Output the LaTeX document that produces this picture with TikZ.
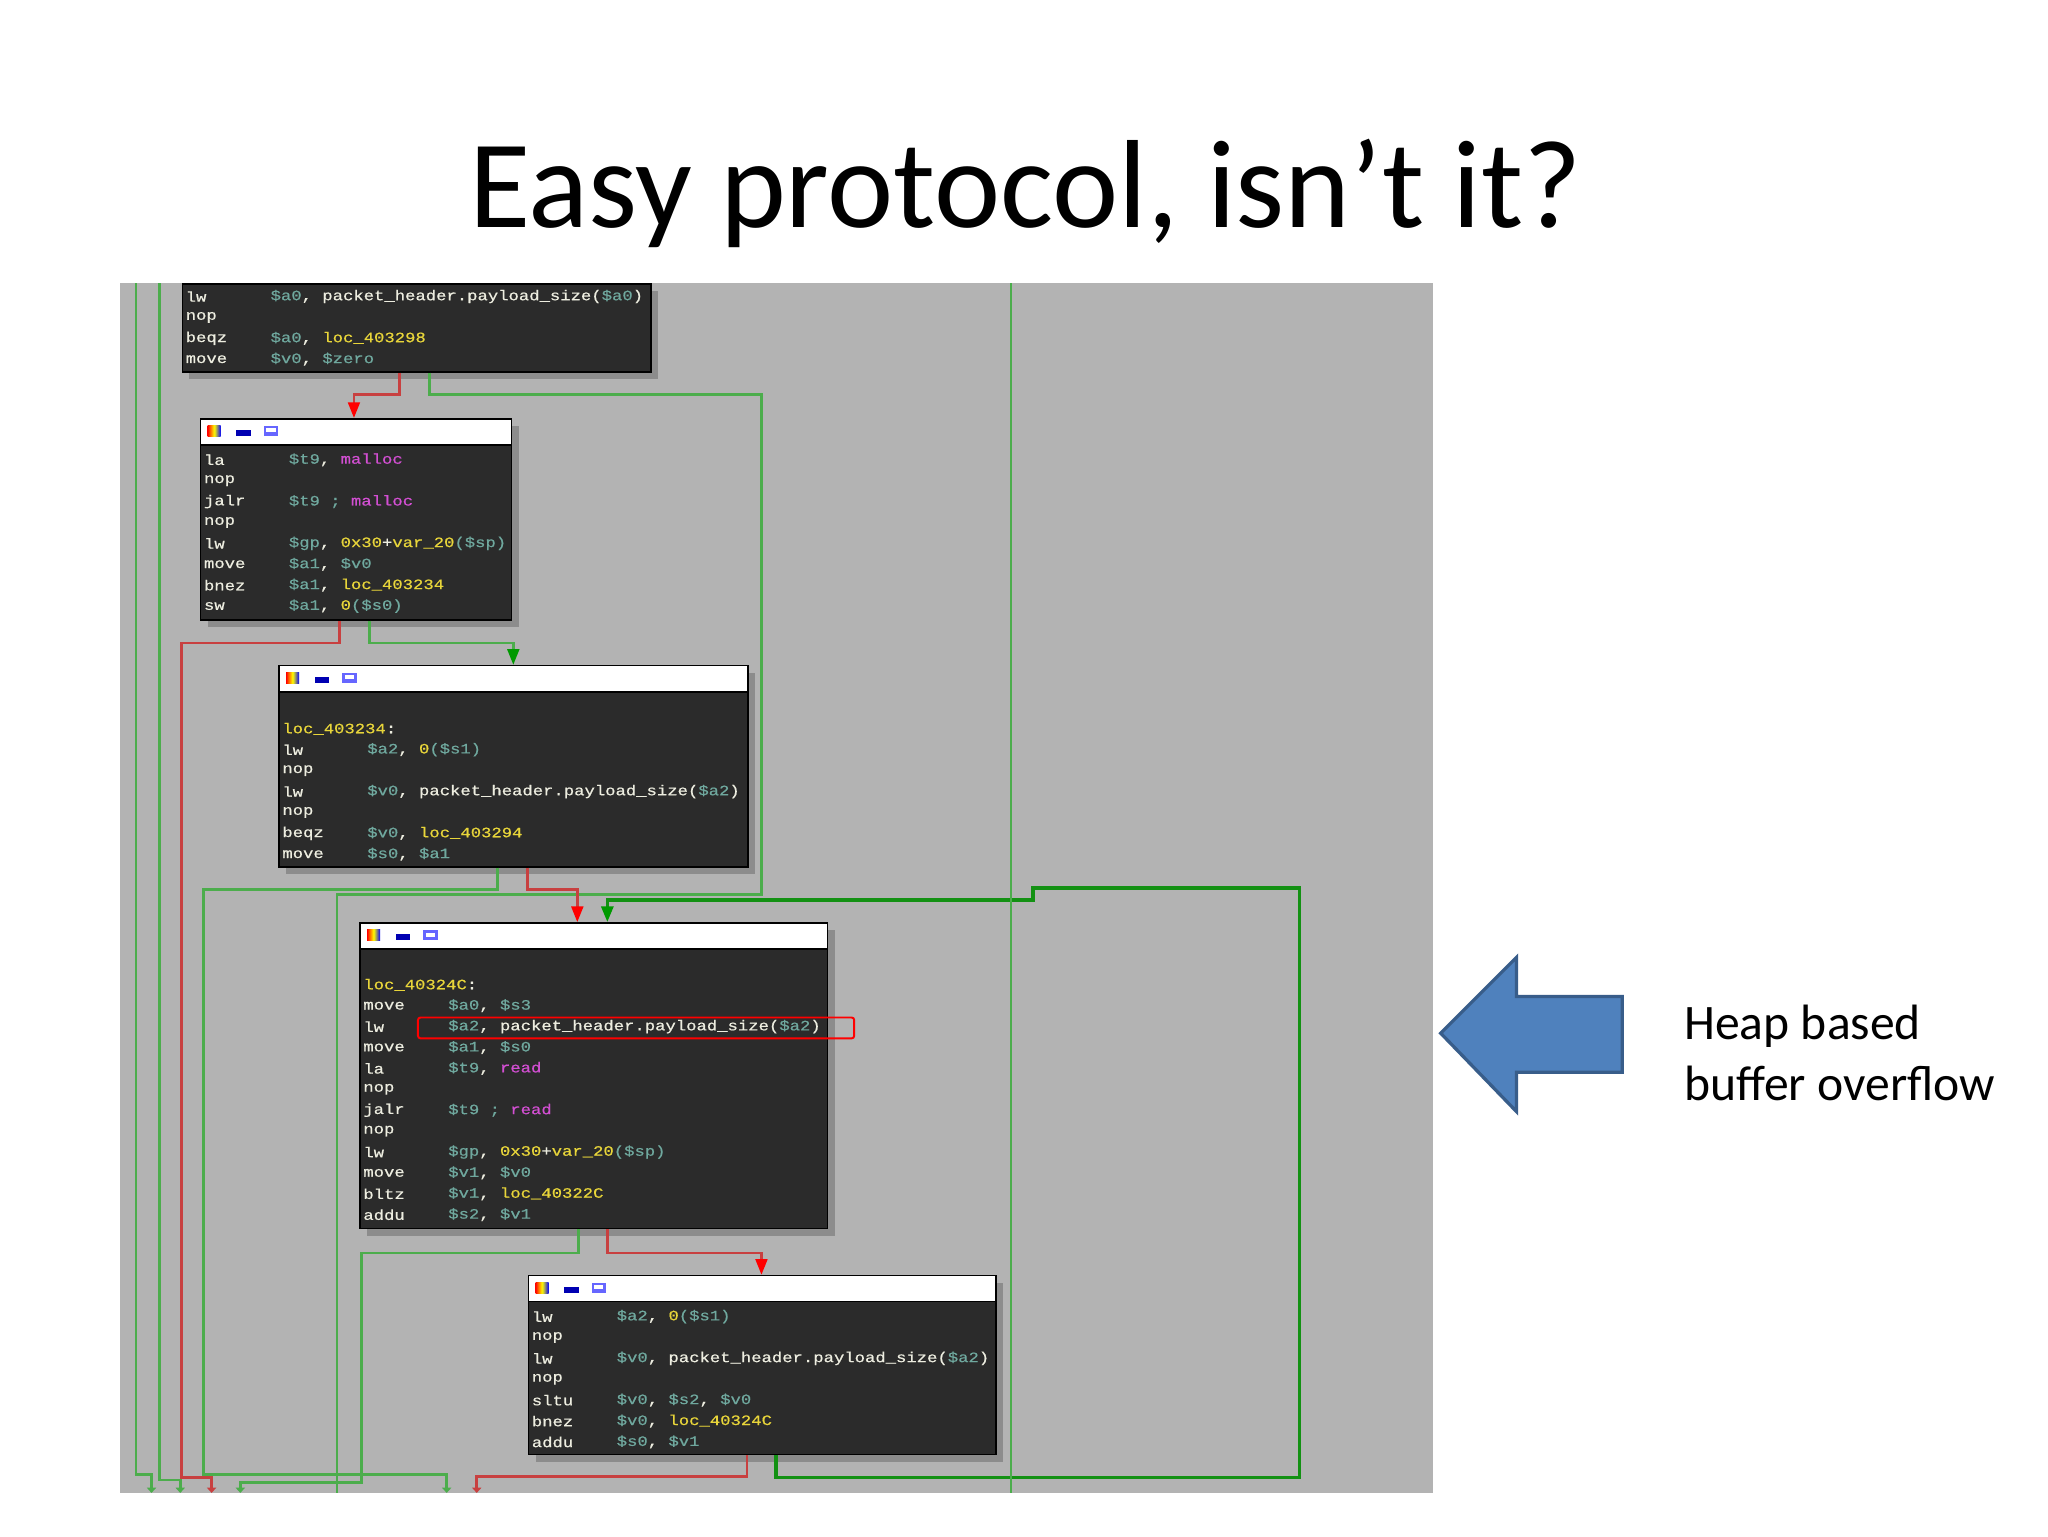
\documentclass[tikz,border=0pt]{standalone}
\usepackage{fontspec}
\setmainfont{Carlito}
\newfontfamily\asmfont{Liberation Mono}[FakeStretch=1.2, FakeBold=0.6]
\usetikzlibrary{arrows.meta, positioning}

\definecolor{idagray}{HTML}{B3B3B3}
\definecolor{idabody}{HTML}{2B2B2B}
\definecolor{idashadow}{HTML}{8C8C8C}
\definecolor{asmreg}{HTML}{6FA89E}
\definecolor{asmyel}{HTML}{E8D53A}
\definecolor{asmmag}{HTML}{D24FD2}
\definecolor{asmtxt}{HTML}{EDEDE0}
\definecolor{edgegreen}{HTML}{4CAD4C}
\definecolor{edgedark}{HTML}{139113}
\definecolor{edgered}{HTML}{C84040}
\definecolor{arrowblue}{HTML}{4F81BD}
\definecolor{arrowline}{HTML}{385D8A}

\newcommand\rg[1]{\textcolor{asmreg}{\$#1}}
\newcommand\yl[1]{\textcolor{asmyel}{#1}}
\newcommand\mg[1]{\textcolor{asmmag}{#1}}
\newcommand\asmline[5]{%
  \node[mnem] (#1m) at (#2,#3) {#4};
  \node[opnd] (#1o) at (#2+65,#3) {#5};}

\tikzset{
  block/.style={draw=black, line width=1.2pt, fill=idabody, anchor=north west, inner sep=0pt},
  head/.style={draw=black, line width=1.2pt, fill=white, anchor=north west, inner sep=0pt},
  shade/.style={fill=idashadow, draw=none},
  mnem/.style={anchor=west, inner sep=0pt, text=asmtxt, font=\asmfont\fontsize{11}{12}\selectfont},
  opnd/.style={mnem},
  gedge/.style={draw=edgegreen, line width=2pt},
  dedge/.style={draw=edgedark, line width=2.6pt},
  redge/.style={draw=edgered, line width=2pt},
  tipg/.style={-{Triangle[length=12pt,width=9pt,color=#1]}},
  tipg/.default=red,
  tips/.style={-{Triangle[length=4pt,width=7pt]}}
}

\begin{document}
\begin{tikzpicture}[x=1pt, y=-1pt]
  \useasboundingbox (0,0) rectangle (1568,1176);
  \fill[white] (0,0) rectangle (1568,1176);
  \node (title) at (785,148) {\fontsize{96}{110}\selectfont Easy protocol, isn’t it?};
  \fill[idagray] (92,217) rectangle (1097,1143);

  % shadows
  \fill[shade] (145,223) rectangle (504,290);
  \fill[shade] (159,326) rectangle (397,480);
  \fill[shade] (219,515) rectangle (578,669);
  \fill[shade] (281,712) rectangle (639,946);
  \fill[shade] (410,982) rectangle (768,1119);

  % blocks
  \node[block, minimum width=359pt, minimum height=67pt] (b0) at (139,217) {};
  \node[block, minimum width=238pt, minimum height=154pt] (b1) at (153,320) {};
  \node[block, minimum width=359pt, minimum height=154pt] (b2) at (213,509) {};
  \node[block, minimum width=358pt, minimum height=234pt] (b3) at (275,706) {};
  \node[block, minimum width=358pt, minimum height=137pt] (b4) at (404,976) {};
  \foreach \n/\x/\y/\w in {h1/153/320/238, h2/213/509/359, h3/275/706/358, h4/404/976/358} {
    \node[head, minimum width=\w pt, minimum height=20pt] (\n) at (\x,\y) {};
    \fill[left color=red, right color=blue, middle color=yellow] (\x+6,\y+6) rectangle (\x+16,\y+14);
    \fill[blue!70!black] (\x+28,\y+9) rectangle (\x+39,\y+14);
    \fill[blue!60] (\x+49,\y+6) rectangle (\x+60,\y+14);
    \fill[white] (\x+51,\y+8) rectangle (\x+58,\y+11);
  }

  % code
  \asmline{a1}{142}{227}{lw}{\rg{a0}, packet\_header.payload\_size(\rg{a0})}
  \asmline{a2}{142}{243}{nop}{}
  \asmline{a3}{142}{259}{beqz}{\rg{a0}, \yl{loc\_403298}}
  \asmline{a4}{142}{275}{move}{\rg{v0}, \rg{zero}}

  \asmline{c1}{156}{352}{la}{\rg{t9}, \mg{malloc}}
  \asmline{c2}{156}{368}{nop}{}
  \asmline{c3}{156}{384}{jalr}{\rg{t9} \textcolor{asmreg}{;} \mg{malloc}}
  \asmline{c4}{156}{400}{nop}{}
  \asmline{c5}{156}{416}{lw}{\rg{gp}, \yl{0x30}+\yl{var\_20}\textcolor{asmreg}{(\$sp)}}
  \asmline{c6}{156}{432}{move}{\rg{a1}, \rg{v0}}
  \asmline{c7}{156}{448}{bnez}{\rg{a1}, \yl{loc\_403234}}
  \asmline{c8}{156}{464}{sw}{\rg{a1}, \yl{0}\textcolor{asmreg}{(\$s0)}}

  \node[mnem] (d0) at (216,558) {\yl{loc\_403234}:};
  \asmline{d1}{216}{574}{lw}{\rg{a2}, \yl{0}\textcolor{asmreg}{(\$s1)}}
  \asmline{d2}{216}{590}{nop}{}
  \asmline{d3}{216}{606}{lw}{\rg{v0}, packet\_header.payload\_size(\rg{a2})}
  \asmline{d4}{216}{622}{nop}{}
  \asmline{d5}{216}{638}{beqz}{\rg{v0}, \yl{loc\_403294}}
  \asmline{d6}{216}{654}{move}{\rg{s0}, \rg{a1}}

  \node[mnem] (e0) at (278,754) {\yl{loc\_40324C}:};
  \asmline{e1}{278}{770}{move}{\rg{a0}, \rg{s3}}
  \asmline{e2}{278}{786}{lw}{\rg{a2}, packet\_header.payload\_size(\rg{a2})}
  \asmline{e3}{278}{802}{move}{\rg{a1}, \rg{s0}}
  \asmline{e4}{278}{818}{la}{\rg{t9}, \mg{read}}
  \asmline{e5}{278}{834}{nop}{}
  \asmline{e6}{278}{850}{jalr}{\rg{t9} \textcolor{asmreg}{;} \mg{read}}
  \asmline{e7}{278}{866}{nop}{}
  \asmline{e8}{278}{882}{lw}{\rg{gp}, \yl{0x30}+\yl{var\_20}\textcolor{asmreg}{(\$sp)}}
  \asmline{e9}{278}{898}{move}{\rg{v1}, \rg{v0}}
  \asmline{e10}{278}{914}{bltz}{\rg{v1}, \yl{loc\_40322C}}
  \asmline{e11}{278}{930}{addu}{\rg{s2}, \rg{v1}}
  \draw[red, line width=1.5pt, rounded corners=2pt] (320,779) rectangle (654,795);

  \asmline{f1}{407}{1008}{lw}{\rg{a2}, \yl{0}\textcolor{asmreg}{(\$s1)}}
  \asmline{f2}{407}{1024}{nop}{}
  \asmline{f3}{407}{1040}{lw}{\rg{v0}, packet\_header.payload\_size(\rg{a2})}
  \asmline{f4}{407}{1056}{nop}{}
  \asmline{f5}{407}{1072}{sltu}{\rg{v0}, \rg{s2}, \rg{v0}}
  \asmline{f6}{407}{1088}{bnez}{\rg{v0}, \yl{loc\_40324C}}
  \asmline{f7}{407}{1104}{addu}{\rg{s0}, \rg{v1}}

  % edges
  \coordinate (in1) at (104,217);
  \coordinate (in2) at (122,217);
  \coordinate (in3) at (774,217);
  \draw[redge, tipg=red] ([xshift=167pt]b0.south west) -- ++(0,17) -| ([xshift=118pt]b1.north west);
  \draw[gedge] ([xshift=190pt]b0.south west) -- ++(0,17) -| (583,685) -| (258,1143);
  \draw[redge, tips] ([xshift=107pt]b1.south west) -- ++(0,17) -| (139,1131) -| (162,1143);
  \draw[gedge, tipg=green!60!black] ([xshift=130pt]b1.south west) -- ++(0,17) -| ([xshift=180pt]b2.north west);
  \draw[gedge, tips] ([xshift=168pt]b2.south west) -- ++(0,17) -| (156,1129) -| (342,1143);
  \draw[redge, tipg=red] ([xshift=191pt]b2.south west) -- ++(0,17) -| ([xshift=167pt]b3.north west);
  \draw[gedge, tips] ([xshift=168pt]b3.south west) -- ++(0,18) -| (277,1135) -| (184,1143);
  \draw[redge, tipg=red] ([xshift=190pt]b3.south west) -- ++(0,18) -| ([xshift=179pt]b4.north west);
  \draw[redge, tips] ([xshift=168pt]b4.south west) -- ++(0,16) -| (365,1143);
  \draw[dedge, tipg=green!60!black] ([xshift=190pt]b4.south west) -- ++(0,17) -| (995,680) -- (791,680) -- (791,689) -| ([xshift=190pt]b3.north west);
  \draw[gedge, tips] (in1) -- (104,1129) -| (116,1143);
  \draw[gedge, tips] (in2) -- (122,1133) -| (138,1143);
  \draw[gedge] (in3) -- (774,1143);

  % blue arrow
  \draw[fill=arrowblue, draw=arrowline, line width=2.5pt, line join=miter]
    (1103,791) -- (1161,733) -- (1161,763) -- (1242,763) -- (1242,821) -- (1161,821) -- (1161,851) -- cycle;
  \node[anchor=west, align=left, font=\fontsize{38}{47}\selectfont] (note) at (1286,806) {Heap based\\buffer overflow};
\end{tikzpicture}
\end{document}
